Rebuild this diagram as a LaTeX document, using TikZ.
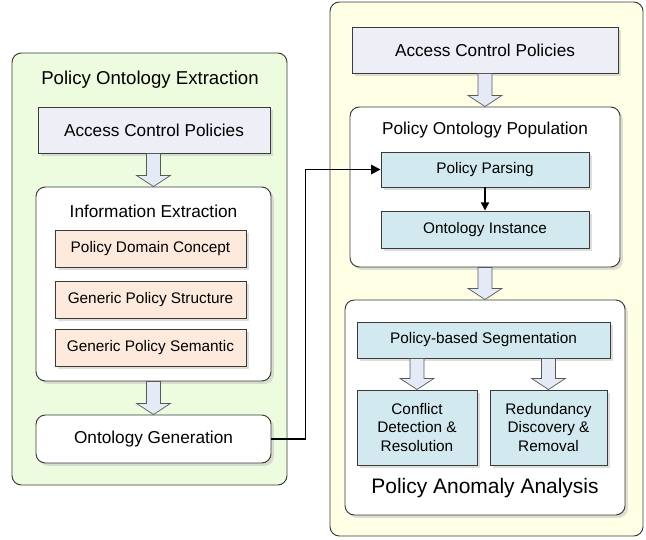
\documentclass[tikz,border=0pt]{standalone}
\usepackage{fontspec}
\setmainfont{Liberation Sans}
\usetikzlibrary{calc,shadows,arrows.meta}

\definecolor{panelgreen}{HTML}{EDFCDF}
\definecolor{panelyellow}{HTML}{FFFFE6}
\definecolor{acpfill}{HTML}{EEEEF6}
\definecolor{peach}{HTML}{FDEADC}
\definecolor{stepblue}{HTML}{D2E9EF}
\definecolor{arrowfill}{HTML}{E4EBF7}
\definecolor{edgegrey}{HTML}{3A3A3A}

\newcommand{\pxu}{0.03cm}
\newcommand{\normalfs}{\fontsize{14.7}{17}\selectfont}
\newcommand{\innerfs}{\fontsize{13.1}{16.2}\selectfont}

\tikzset{
  panel/.style={draw=edgegrey, line width=0.8pt, rounded corners=8pt},
  roundbox/.style={draw=edgegrey, line width=0.8pt, fill=white, rounded corners=8pt,
    drop shadow={shadow xshift=2.5pt, shadow yshift=-2.5pt, fill=black!25}},
  squarebox/.style={draw=edgegrey, line width=0.8pt, align=center, font=\innerfs,
    drop shadow={shadow xshift=2.5pt, shadow yshift=-2.5pt, fill=black!25}},
  blockarrow/.style={draw=gray!70!black, line width=0.6pt, fill=arrowfill},
  flow/.style={line width=1.4pt, -{Triangle[length=8pt, width=8pt]}}
}

% hollow arrow from one node down to the next
\newcommand{\blockarrow}[2]{%
  \draw[blockarrow] let \p1=(#1.south), \p2=(#2.north) in
    (\x2-6pt,\y1) -- (\x2+6pt,\y1) -- (\x2+6pt,\y2+9.5pt) -- (\x2+14.5pt,\y2+9.5pt)
    -- (\x2,\y2) -- (\x2-14.5pt,\y2+9.5pt) -- (\x2-6pt,\y2+9.5pt) -- cycle;}

\begin{document}
\begin{tikzpicture}[x=0.03cm, y=-0.03cm]
\useasboundingbox (0,0) rectangle (646,540);

% left panel
\node[panel, fill=panelgreen, minimum width=275*\pxu, minimum height=432*\pxu] (leftPanel) at (149.5,269) {};
\node[font=\fontsize{15.9}{19}\selectfont] (leftTitle) at (150,80) {Policy Ontology Extraction};
\node[squarebox, fill=acpfill, font=\normalfs, minimum width=232*\pxu, minimum height=46*\pxu] (acpL) at (154,130) {Access Control Policies};
\node[roundbox, minimum width=235*\pxu, minimum height=194*\pxu] (infoE) at (153.5,284) {};
\node[font=\normalfs] (infoTitle) at (153.5,211) {Information Extraction};
\node[squarebox, fill=peach, minimum width=191*\pxu, minimum height=37*\pxu] (pdc) at (150.5,249) {Policy Domain Concept};
\node[squarebox, fill=peach, minimum width=191*\pxu, minimum height=37*\pxu] (gps) at (150.5,300) {Generic Policy Structure};
\node[squarebox, fill=peach, minimum width=191*\pxu, minimum height=37*\pxu] (gpsem) at (150.5,348) {Generic Policy Semantic};
\node[roundbox, font=\normalfs, minimum width=235*\pxu, minimum height=48*\pxu] (ontGen) at (153.5,439) {Ontology Generation};

% right panel
\node[panel, fill=panelyellow, minimum width=313*\pxu, minimum height=534*\pxu] (rightPanel) at (486.5,269) {};
\node[squarebox, fill=acpfill, font=\normalfs, minimum width=266*\pxu, minimum height=46*\pxu] (acpR) at (485,50) {Access Control Policies};
\node[roundbox, minimum width=270*\pxu, minimum height=160*\pxu] (pop) at (485,187) {};
\node[font=\normalfs] (popTitle) at (485,130) {Policy Ontology Population};
\node[squarebox, fill=stepblue, minimum width=208*\pxu, minimum height=35*\pxu] (parse) at (485,169.5) {Policy Parsing};
\node[squarebox, fill=stepblue, minimum width=208*\pxu, minimum height=37*\pxu] (inst) at (485,229.5) {Ontology Instance};
\node[roundbox, minimum width=280*\pxu, minimum height=215*\pxu] (paa) at (485,407.5) {};
\node[squarebox, fill=stepblue, minimum width=253*\pxu, minimum height=36*\pxu] (seg) at (483.5,340) {Policy-based Segmentation};
\node[squarebox, fill=stepblue, minimum width=120*\pxu, minimum height=75*\pxu] (conf) at (417,427.5) {Conflict\\ Detection \&\\ Resolution};
\node[squarebox, fill=stepblue, minimum width=117*\pxu, minimum height=75*\pxu] (red) at (548.5,427.5) {Redundancy\\ Discovery \&\\ Removal};
\node[font=\fontsize{17.9}{21}\selectfont] (paaTitle) at (485,488) {Policy Anomaly Analysis};

% arrows
\blockarrow{acpL}{infoE}
\blockarrow{infoE}{ontGen}
\blockarrow{acpR}{pop}
\blockarrow{pop}{paa}
\blockarrow{seg}{conf}
\blockarrow{seg}{red}
\draw[flow] (ontGen.east) -- ++(34,0) |- (parse.west);
\draw[line width=1.2pt, -{Triangle[length=7pt, width=7pt]}] (parse.south) -- (inst.north);
\end{tikzpicture}
\end{document}
